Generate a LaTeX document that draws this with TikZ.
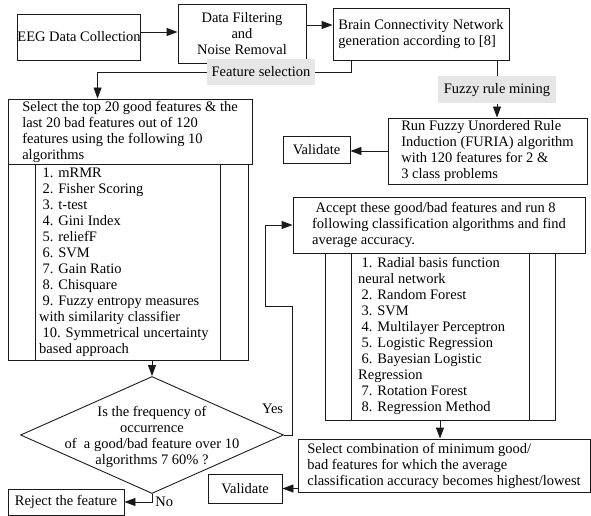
\documentclass[tikz,border=0pt]{standalone}
\usepackage{fontspec}
\setmainfont{Liberation Serif}
\usetikzlibrary{arrows.meta,positioning,calc,shapes.geometric}
\definecolor{Ink}{HTML}{1A1A1A}
\definecolor{Shade}{HTML}{E6E6E6}
\newcommand{\rmsz}{\fontsize{14.5}{16}\selectfont}
\newcommand{\padl}{\hspace*{3.5pt}}
\tikzset{
  >={Triangle[length=11pt,width=8pt]},
  box/.style={draw=Ink,line width=.9pt,inner sep=0pt,font=\rmsz},
  txt/.style={box,align=left},
  tag/.style={fill=Shade,draw=none,inner sep=0pt,font=\rmsz},
  lst/.style={align=left,inner sep=0pt,anchor=north west,font=\rmsz},
  wire/.style={line width=.9pt,draw=Ink},
  flow/.style={wire,->},
  lab/.style={font=\rmsz,inner sep=1pt}
}

\begin{document}
\begin{tikzpicture}[x=1pt,y=-1pt]
  \useasboundingbox (0,0) rectangle (591,516);
  % top row
  \node[box,minimum width=122pt,minimum height=46pt] (eeg) at (79,37) {EEG Data Collection};
  \node[box,align=center,minimum width=128pt,minimum height=59pt] (filt) at (242,33.5) {Data Filtering\\and\\Noise Removal};
  \node[txt,minimum width=176pt,minimum height=52pt] (brain) at (421,34) {Brain Connectivity Network\\generation according to [8]};
  \draw[flow] ([yshift=5pt]eeg.east) -- ([yshift=5pt]eeg.east -| filt.west);
  \draw[flow] ([yshift=8.5pt]filt.east) -- ([yshift=8.5pt]filt.east -| brain.west);
  % feature selection branch
  \node[tag,minimum width=108pt,minimum height=26pt] (fsel) at (261,72) {Feature selection};
  \node[txt,minimum width=244pt,minimum height=65pt] (sel) at (130,131.5) {Select the top 20 good features \& the\\last 20 bad features out of 120\\features using the following 10\\algorithms};
  \draw[wire] ([xshift=19pt]brain.south west) |- (fsel.east);
  \draw[flow] (fsel.west) -| ([xshift=90pt]sel.north west);
  \node[box,minimum width=240pt,minimum height=196pt] (alg) at (128,262) {};
  \draw[wire] ([xshift=28pt]alg.north west) -- ([xshift=28pt]alg.south west);
  \draw[wire] ([xshift=-28pt]alg.north east) -- ([xshift=-28pt]alg.south east);
  \node[lst] (algtxt) at (39,168) {\padl 1. mRMR\\\padl 2. Fisher Scoring\\\padl 3. t-test\\\padl 4. Gini Index\\\padl 5. reliefF\\\padl 6. SVM\\\padl 7. Gain Ratio\\\padl 8. Chisquare\\\padl 9. Fuzzy entropy measures\\with similarity classifier\\\padl 10. Symmetrical uncertainty\\based approach};
  % decision
  \node[diamond,draw=Ink,line width=.9pt,minimum width=263pt,minimum height=117pt,inner sep=0pt] (dec) at (152,435) {};
  \node[align=center,inner sep=0pt,font=\rmsz] (dectxt) at (152,437) {Is the frequency of\\occurrence\\of\ \ a good/bad feature over 10\\algorithms 7 60\% ?};
  \draw[flow] (dec.north |- alg.south) -- (dec.north);
  \node[box,minimum width=116pt,minimum height=26pt] (rej) at (66,502) {Reject the feature};
  \draw[flow] (dec.south) |- node[pos=.5,anchor=west,lab,xshift=2pt] (no) {No} (rej.east);
  % fuzzy rule mining branch
  \node[tag,minimum width=118pt,minimum height=27pt] (fuzz) at (497,90) {Fuzzy rule mining};
  \node[txt,minimum width=199pt,minimum height=66pt] (fur) at (487.5,151) {Run Fuzzy Unordered Rule\\Induction (FURIA) algorithm\\with 120 features for 2 \&\\3 class problems};
  \draw[wire] (fuzz.north |- brain.south) -- (fuzz.north);
  \draw[flow] (fuzz.south) -- (fuzz.south |- fur.north);
  \node[box,minimum width=67pt,minimum height=27pt] (val1) at (316.5,149.5) {Validate};
  \draw[flow] (fur.west) -- (fur.west -| val1.east);
  % classification
  \node[txt,minimum width=292pt,minimum height=56pt] (acc) at (439,225) {\padl Accept these good/bad features and run 8\\following classification algorithms and find\\average accuracy.};
  \draw[flow] (dec.east) -- (dec.east -| acc.west) -- node[pos=.2,left=8pt,lab] (yes) {Yes} ++(0,-129) -- ++(-27,0) |- (acc.west);
  \node[box,minimum width=230pt,minimum height=167pt] (cls) at (440,336.5) {};
  \draw[wire] ([xshift=27pt]cls.north west) -- ([xshift=27pt]cls.south west);
  \draw[wire] ([xshift=-26pt]cls.north east) -- ([xshift=-26pt]cls.south east);
  \node[lst] (clstxt) at (358,257) {\padl 1. Radial basis function\\neural network\\\padl 2. Random Forest\\\padl 3. SVM\\\padl 4. Multilayer Perceptron\\\padl 5. Logistic Regression\\\padl 6. Bayesian Logistic\\Regression\\\padl 7. Rotation Forest\\\padl 8. Regression Method};
  \node[txt,minimum width=292pt,minimum height=53pt] (comb) at (444,465.5) {Select combination of minimum good/\\bad features for which the average\\classification accuracy becomes highest/lowest};
  \draw[flow] (cls.south) -- (cls.south |- comb.north);
  \node[box,minimum width=74pt,minimum height=29pt] (val2) at (245,488.5) {Validate};
  \draw[flow] (val2.east -| comb.west) -- (val2.east);
\end{tikzpicture}
\end{document}
